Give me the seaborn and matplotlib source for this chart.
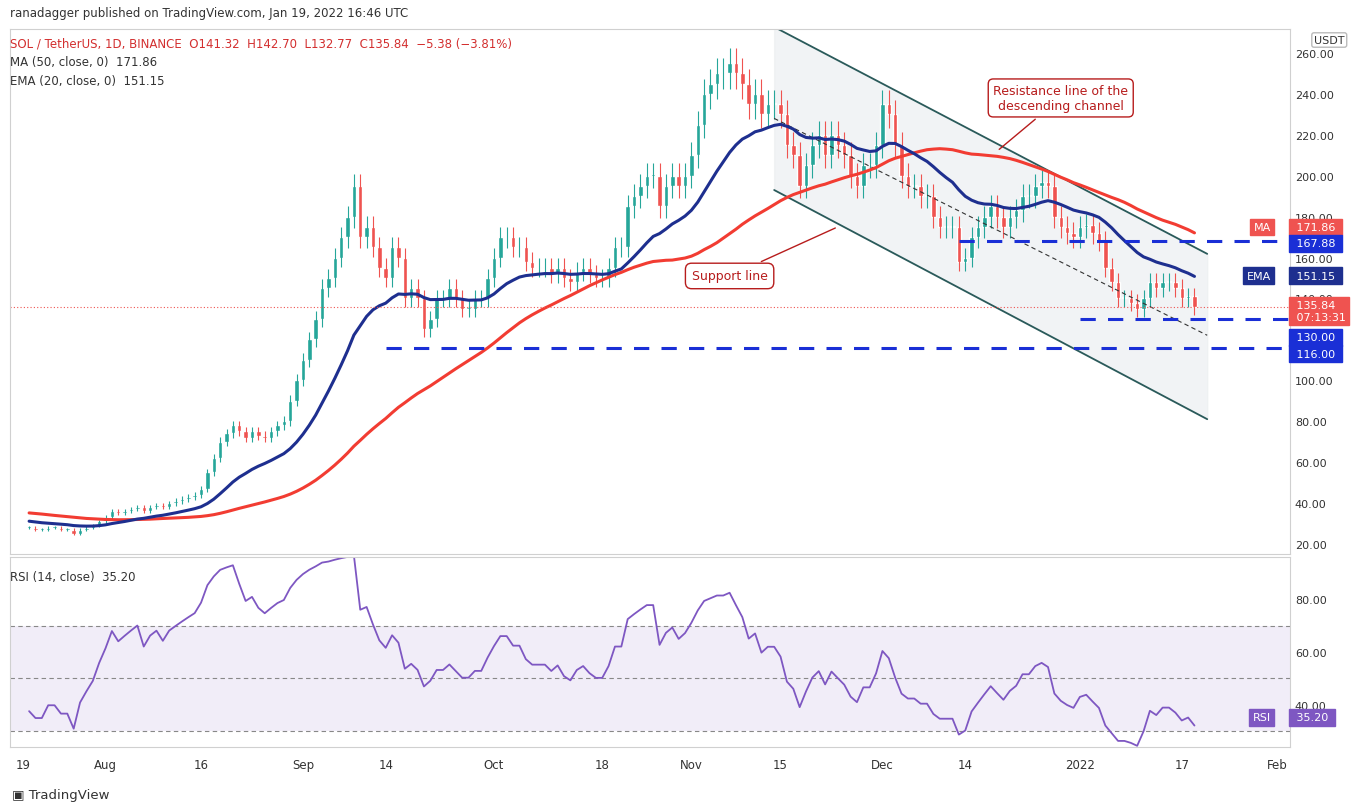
import matplotlib.pyplot as plt
import matplotlib.dates as mdates
import matplotlib.transforms as mtrans
import seaborn as sns
import numpy as np
import pandas as pd

# daily closes, SOL/USDT, Jul 19 2021 .. Jan 19 2022
closes = [28, 27, 27, 28, 28, 27, 27, 25, 27, 28, 29, 31, 33,
          36, 35, 36, 37, 38, 36, 38, 39, 38, 40, 41, 42, 43, 44, 47,
          55, 62, 70, 74, 78, 75, 72, 75, 73, 72, 75, 78, 80, 90, 100,
          110, 120, 130, 145, 150, 160, 170, 180, 195, 170, 175, 165, 155,
          150, 165, 160, 140, 145, 140, 125, 130, 140, 140, 145, 140, 135,
          135, 140, 140, 150, 160, 170, 170, 165, 165, 158, 155, 155, 155,
          152, 155, 150, 148, 153, 155, 152, 150, 150, 155, 165, 165, 185,
          190, 195, 200, 200, 185, 195, 200, 195, 200, 210, 225, 240, 245,
          250, 250, 255, 250, 245, 235, 240, 230, 235, 235, 230, 215, 210,
          195, 205, 215, 220, 210, 220, 215, 210, 200, 195, 205, 205, 215,
          235, 230, 215, 200, 195, 195, 190, 190, 180, 175, 175, 175, 158,
          160, 170, 175, 180, 185, 180, 175, 180, 183, 190, 190, 195, 197,
          195, 180, 175, 172, 170, 175, 176, 172, 168, 155, 148, 140, 140,
          138, 135, 140, 148, 145, 148, 148, 145, 140, 141, 135.84]
# closes before Jul 19, only used to seed the averages
pre_closes = [38, 40, 42, 45, 44, 42, 41, 43, 42, 40, 38, 39, 41, 40, 38,
              36, 35, 34, 33, 32, 30, 31, 33, 34, 35, 36, 34, 35, 36, 38,
              37, 36, 35, 34, 33, 34, 35, 34, 33, 34, 33, 32, 31, 30, 29,
              30, 29, 28, 29, 28]

tick_dates = ["2021-07-19", "2021-08-01", "2021-08-16", "2021-09-01", "2021-09-14",
              "2021-10-01", "2021-10-18", "2021-11-01", "2021-11-15", "2021-12-01",
              "2021-12-14", "2022-01-01", "2022-01-17", "2022-02-01"]
tick_labels = ["19", "Aug", "16", "Sep", "14", "Oct", "18", "Nov", "15", "Dec",
               "14", "2022", "17", "Feb"]

chan_dates = ["2021-11-14", "2022-01-21"]
chan_upper = [272.7, 161.8]
chan_lower = [193.0, 81.0]
chan_mid = [228.0, 122.0]
levels = [167.88, 130.0, 116.0]
level_start = ["2021-12-13", "2022-01-01", "2021-09-14"]

dates = pd.date_range(end="2022-01-19", periods=len(closes), freq="D")
allc = pd.Series(pre_closes + closes, dtype=float)
ma50 = allc.rolling(50).mean().values[len(pre_closes):]
ema20 = allc.ewm(span=20, adjust=False).mean().values[len(pre_closes):]
delta = allc.diff()
gain = delta.clip(lower=0).ewm(alpha=1 / 14, adjust=False).mean()
loss = (-delta.clip(upper=0)).ewm(alpha=1 / 14, adjust=False).mean()
rsi = (100 - 100 / (1 + gain / loss)).values[len(pre_closes):]

opens = [pre_closes[-1]] + closes[:-1]
df = pd.DataFrame({"date": dates, "open": opens, "close": closes,
                   "ma50": ma50, "ema20": ema20, "rsi": rsi})

UP, DOWN = "#26a69a", "#ef5350"
sns.set_style("white")
plt.rcParams['font.family'] = ['DejaVu Sans']
fig = plt.figure(figsize=(13.7, 8.12), dpi=100)
ax = fig.add_axes([10 / 1370, 1 - 555 / 812, 1280 / 1370, 525 / 812])
ax2 = fig.add_axes([10 / 1370, 1 - 748 / 812, 1280 / 1370, 190 / 812], sharex=ax)

x = mdates.date2num(df["date"])
o = df["open"].values
c = df["close"].values
hi = np.maximum(o, c) * 1.03
lo = np.minimum(o, c) * 0.97
col = np.where(c >= o, UP, DOWN)
ax.vlines(x, lo, hi, color=col, linewidth=0.8)
ax.bar(x, np.maximum(np.abs(c - o), 0.6), bottom=np.minimum(o, c), width=0.7, color=col)

# channel
cx = mdates.date2num(pd.to_datetime(chan_dates))
ax.fill_between(cx, chan_lower, chan_upper, color="#eceff1", alpha=0.7, zorder=0)
ax.plot(cx, chan_upper, color="#2a5a5a", lw=1.3)
ax.plot(cx, chan_lower, color="#2a5a5a", lw=1.3)
ax.plot(cx, chan_mid, color="#333", lw=0.8, ls=(0, (4, 3)))

sns.lineplot(data=df, x="date", y="ma50", ax=ax, color="#f23c32", lw=2.2)
sns.lineplot(data=df, x="date", y="ema20", ax=ax, color="#1e2f8f", lw=2.2)

xend = mdates.date2num(pd.Timestamp("2022-02-03"))
for lv, st in zip(levels, level_start):
    ax.hlines(lv, mdates.date2num(pd.Timestamp(st)), xend, color="#1a2fd6", lw=2.2,
              linestyles=(0, (5, 4)))
ax.axhline(135.84, color=DOWN, lw=0.8, ls=(0, (1, 2)))

ax.set_xlim(mdates.date2num(pd.Timestamp("2021-07-17")), xend)
ax.set_ylim(15.1, 271.7)
ax.set_yticks(range(20, 261, 20))
ax.yaxis.tick_right()
ax.yaxis.set_major_formatter(lambda v, p: f"{v:.2f}")
ax.tick_params(axis="y", labelsize=8, colors="#333", length=0)
ax.tick_params(axis="x", labelbottom=False, length=0)
ax.set_xlabel("")
ax.set_ylabel("")

bt = mtrans.blended_transform_factory(ax.transAxes, ax.transData)
def tag(y, txt, fc, tc="white"):
    ax.text(1.002, y, txt, transform=bt, fontsize=8, color=tc, va="center", ha="left",
            bbox=dict(boxstyle="square,pad=0.3", fc=fc, ec=fc), clip_on=False)
tag(175.0, " 171.86 ", DOWN)
tag(167.0, " 167.88 ", "#1a2fd6")
tag(151.15, " 151.15 ", "#1e2f8f")
tag(134.0, " 135.84\n 07:13:31", DOWN)
tag(121.0, " 130.00 ", "#1a2fd6")
tag(113.0, " 116.00 ", "#1a2fd6")
ax.text(0.985, 175.0, "MA", transform=bt, fontsize=8, color="white", ha="right", va="center",
        bbox=dict(boxstyle="square,pad=0.3", fc=DOWN, ec=DOWN))
ax.text(0.985, 151.15, "EMA", transform=bt, fontsize=8, color="white", ha="right", va="center",
        bbox=dict(boxstyle="square,pad=0.3", fc="#1e2f8f", ec="#1e2f8f"))

# annotations
ax.annotate("Resistance line of the\ndescending channel", xy=(mdates.date2num(pd.Timestamp("2021-12-19")), 212),
            xytext=(mdates.date2num(pd.Timestamp("2021-12-29")), 238), fontsize=9, color="#b71c1c",
            ha="center", va="center",
            bbox=dict(boxstyle="round,pad=0.4", fc="white", ec="#b71c1c"),
            arrowprops=dict(arrowstyle="-", color="#b71c1c"))
ax.annotate("Support line", xy=(mdates.date2num(pd.Timestamp("2021-11-24")), 175),
            xytext=(mdates.date2num(pd.Timestamp("2021-11-07")), 151), fontsize=9, color="#b71c1c",
            ha="center", va="center",
            bbox=dict(boxstyle="round,pad=0.5", fc="white", ec="#b71c1c"),
            arrowprops=dict(arrowstyle="-", color="#b71c1c"))

ax.text(0.0, 0.985, "SOL / TetherUS, 1D, BINANCE  O141.32  H142.70  L132.77  C135.84  \u22125.38 (\u22123.81%)",
        transform=ax.transAxes, fontsize=8.5, color="#d32f2f", va="top")
ax.text(0.0, 0.95, "MA (50, close, 0)  171.86", transform=ax.transAxes, fontsize=8.5, color="#333", va="top")
ax.text(0.0, 0.915, "EMA (20, close, 0)  151.15", transform=ax.transAxes, fontsize=8.5, color="#333", va="top")

# RSI panel
ax2.axhspan(30, 70, color="#7e57c2", alpha=0.1, lw=0)
for lv in (30, 50, 70):
    ax2.axhline(lv, color="#888", lw=0.8, ls=(0, (4, 3)))
sns.lineplot(data=df, x="date", y="rsi", ax=ax2, color="#7e57c2", lw=1.3)
ax2.set_ylim(24, 96)
ax2.set_yticks([40, 60, 80])
ax2.yaxis.tick_right()
ax2.yaxis.set_major_formatter(lambda v, p: f"{v:.2f}")
ax2.tick_params(axis="y", labelsize=8, colors="#333", length=0)
ax2.set_xticks(mdates.date2num(pd.to_datetime(tick_dates)))
ax2.set_xticklabels(tick_labels, fontsize=8.5, color="#333")
ax2.tick_params(axis="x", length=0, pad=8)
ax2.set_xlabel("")
ax2.set_ylabel("")
ax2.text(0.0, 0.93, "RSI (14, close)  35.20", transform=ax2.transAxes, fontsize=8.5, color="#333", va="top")
bt2 = mtrans.blended_transform_factory(ax2.transAxes, ax2.transData)
ax2.text(1.002, 35.2, " 35.20 ", transform=bt2, fontsize=8, color="white", va="center",
         bbox=dict(boxstyle="square,pad=0.3", fc="#7e57c2", ec="#7e57c2"), clip_on=False)
ax2.text(0.985, 35.2, "RSI", transform=bt2, fontsize=8, color="white", ha="right", va="center",
         bbox=dict(boxstyle="square,pad=0.3", fc="#7e57c2", ec="#7e57c2"))

for a in (ax, ax2):
    for s in a.spines.values():
        s.set_color("#d0d0d0")

fig.text(10 / 1370, 1 - 14 / 812, "ranadagger published on TradingView.com, Jan 19, 2022 16:46 UTC",
         fontsize=8.5, color="#333", va="center")
fig.text(1 - 56 / 1370, 1 - 41 / 812, "USDT", fontsize=8, color="#333", va="center",
         bbox=dict(boxstyle="round,pad=0.2", fc="white", ec="#bbb"))
fig.text(12 / 1370, 1 - 796 / 812, "\u25a3 TradingView", fontsize=9.5, color="#333", va="center")

fig.savefig("out.png", dpi=100, facecolor="white")
